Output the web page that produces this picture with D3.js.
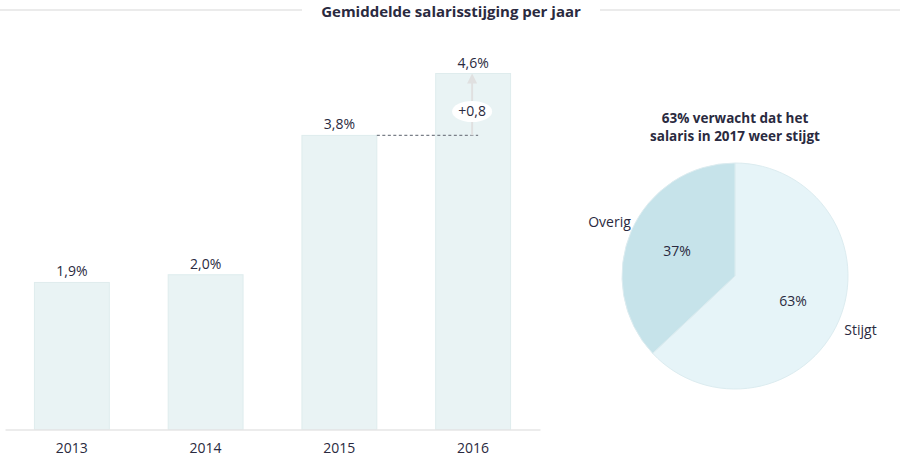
<!DOCTYPE html>
<html>
<head>
<meta charset="utf-8">
<script src="https://cdn.jsdelivr.net/npm/d3@7"></script>
<style>
  body { margin: 0; background: #fff; }
  text { font-family: "Open Sans", sans-serif; fill: #2a2a40; }
</style>
</head>
<body>
<svg id="chart" width="900" height="461"></svg>
<script>
// bar data
var years = ['2013', '2014', '2015', '2016'];
var increases = [1.9, 2.0, 3.8, 4.6];
var increaseLabels = ['1,9%', '2,0%', '3,8%', '4,6%'];
var deltaLabel = '+0,8';

// pie data
var pieNames = ['Stijgt', 'Overig'];
var pieValues = [63, 37];
var pieLabels = ['63%', '37%'];

var svg = d3.select('#chart');

// main title with side rules
svg.append('line').attr('x1', 0).attr('x2', 302).attr('y1', 10).attr('y2', 10)
    .style('stroke', '#e4e4e4').style('stroke-width', 1.5);
svg.append('line').attr('x1', 600).attr('x2', 900).attr('y1', 10).attr('y2', 10)
    .style('stroke', '#e4e4e4').style('stroke-width', 1.5);
svg.append('text')
    .attr('x', 451).attr('y', 17)
    .attr('text-anchor', 'middle')
    .style('font-size', '15px').style('font-weight', 'bold')
    .text('Gemiddelde salarisstijging per jaar');

// ---- bar chart
var x = d3.scaleBand().domain(years).range([5, 540]).paddingInner(0.44).paddingOuter(0.22);
var y = d3.scaleLinear().domain([0, 4.6]).range([429.5, 73.5]);

var bars = svg.append('g');
bars.selectAll('rect')
    .data(years)
    .enter().append('rect')
    .attr('x', function(d) { return x(d); })
    .attr('y', function(d, i) { return y(increases[i]); })
    .attr('width', x.bandwidth())
    .attr('height', function(d, i) { return y(0) - y(increases[i]); })
    .style('fill', '#e9f3f4')
    .style('stroke', '#dfeced')
    .style('stroke-width', 1);

bars.selectAll('text.val')
    .data(years)
    .enter().append('text')
    .attr('class', 'val')
    .attr('x', function(d) { return x(d) + x.bandwidth() / 2; })
    .attr('y', function(d, i) { return y(increases[i]) - 6; })
    .attr('text-anchor', 'middle')
    .style('font-size', '14px')
    .text(function(d, i) { return increaseLabels[i]; });

// axis
var xAxis = d3.axisBottom(x).tickSize(0).tickPadding(14);
var axisG = svg.append('g').attr('transform', 'translate(0,' + y(0) + ')').call(xAxis);
axisG.select('.domain').style('stroke', '#e6e6e6').style('stroke-width', 1.5);
axisG.selectAll('text').style('font-size', '14px').style('fill', '#2a2a40')
    .style('font-family', '"Open Sans", sans-serif');

// difference marker between 2015 and 2016
var cx16 = x('2016') + x.bandwidth() / 2;
svg.append('line')
    .attr('x1', x('2015') + x.bandwidth()).attr('x2', cx16 + 5)
    .attr('y1', y(increases[2])).attr('y2', y(increases[2]))
    .style('stroke', '#7a7f88').style('stroke-width', 1.2)
    .style('stroke-dasharray', '3,2.5');

svg.append('defs').append('marker')
    .attr('id', 'arrow').attr('viewBox', '0 0 10 10')
    .attr('refX', 5).attr('refY', 5)
    .attr('markerWidth', 5).attr('markerHeight', 5)
    .attr('orient', 'auto')
  .append('path').attr('d', 'M0,0 L10,5 L0,10 z').style('fill', '#e0e0e0');

svg.append('line')
    .attr('x1', cx16 - 1).attr('x2', cx16 - 1)
    .attr('y1', y(increases[2])).attr('y2', y(increases[3]) + 5)
    .style('stroke', '#e0e0e0').style('stroke-width', 2)
    .attr('marker-end', 'url(#arrow)');

var midY = (y(increases[2]) + y(increases[3])) / 2 + 7;
svg.append('ellipse')
    .attr('cx', cx16 - 1).attr('cy', midY)
    .attr('rx', 20).attr('ry', 10.5)
    .style('fill', '#fff');
svg.append('text')
    .attr('x', cx16 - 1).attr('y', midY + 5)
    .attr('text-anchor', 'middle')
    .style('font-size', '14px')
    .text(deltaLabel);

// ---- pie chart
var pcx = 735, pcy = 276, r = 113;
svg.append('text')
    .attr('x', pcx).attr('y', 123)
    .attr('text-anchor', 'middle')
    .style('font-size', '13.5px').style('font-weight', 'bold')
    .text('63% verwacht dat het');
svg.append('text')
    .attr('x', pcx).attr('y', 141)
    .attr('text-anchor', 'middle')
    .style('font-size', '13.5px').style('font-weight', 'bold')
    .text('salaris in 2017 weer stijgt');

var pie = d3.pie().sort(null)(pieValues);
var arc = d3.arc().innerRadius(0).outerRadius(r);
var pieColors = ['#e6f4f8', '#c6e3ea'];

var pg = svg.append('g').attr('transform', 'translate(' + pcx + ',' + pcy + ')');
pg.selectAll('path')
    .data(pie)
    .enter().append('path')
    .attr('d', arc)
    .style('fill', function(d, i) { return pieColors[i]; })
    .style('stroke', '#dcecf0').style('stroke-width', 1);

var innerArc = d3.arc().innerRadius(r * 0.56).outerRadius(r * 0.56);
pg.selectAll('text.pct')
    .data(pie)
    .enter().append('text')
    .attr('class', 'pct')
    .attr('transform', function(d) { return 'translate(' + innerArc.centroid(d) + ')'; })
    .attr('dy', '0.35em')
    .attr('text-anchor', 'middle')
    .style('font-size', '14px')
    .text(function(d, i) { return pieLabels[i]; });

var outerArc = d3.arc().innerRadius(r * 1.21).outerRadius(r * 1.21);
pg.selectAll('text.name')
    .data(pie)
    .enter().append('text')
    .attr('class', 'name')
    .attr('transform', function(d) { return 'translate(' + outerArc.centroid(d) + ')'; })
    .attr('dy', '0.35em')
    .attr('text-anchor', 'middle')
    .style('font-size', '14px')
    .text(function(d, i) { return pieNames[i]; });
</script>
</body>
</html>
